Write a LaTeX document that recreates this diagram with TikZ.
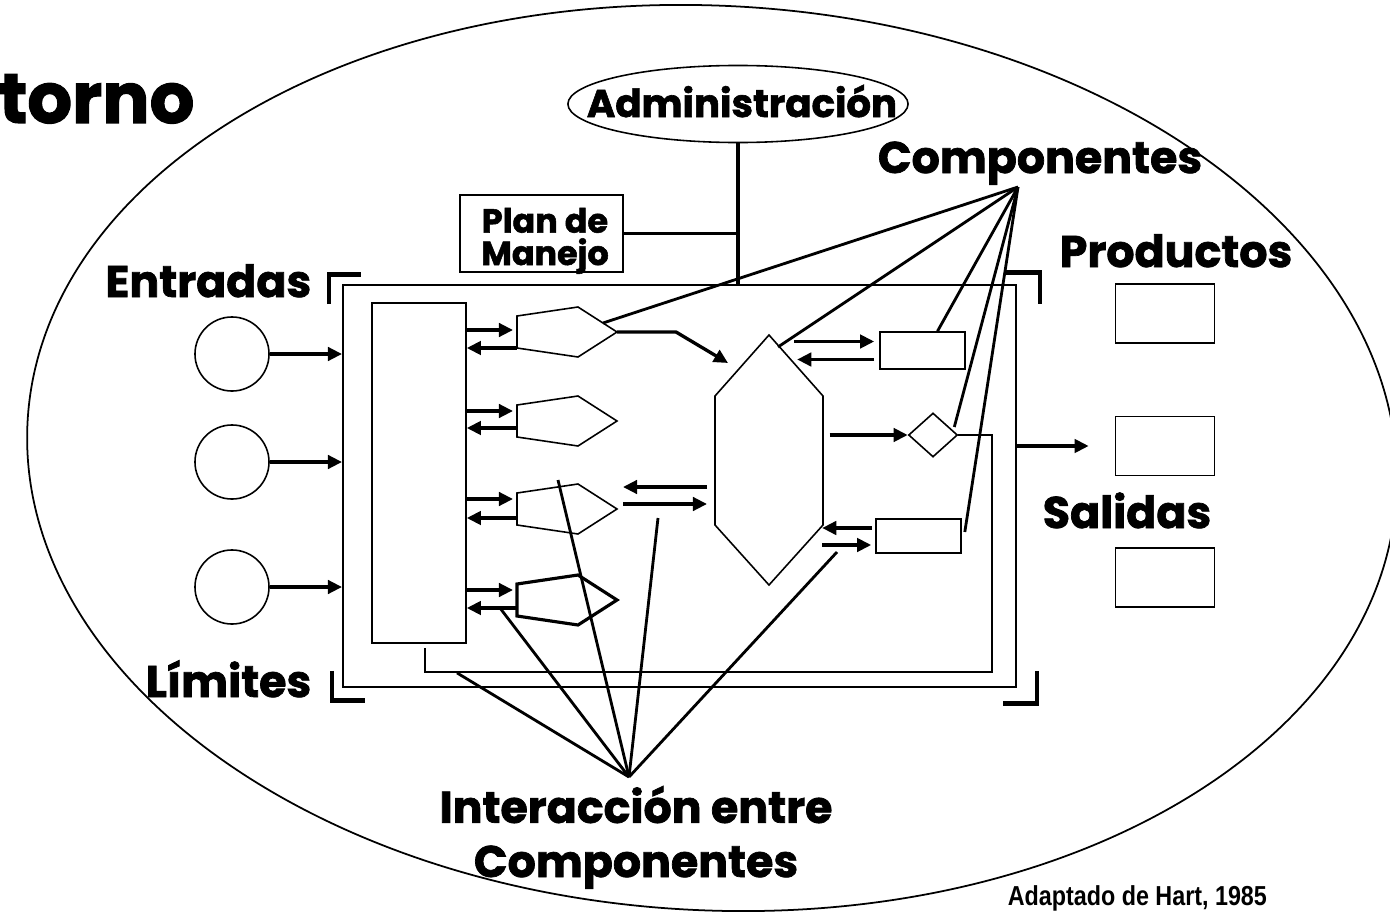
\documentclass[tikz,border=0pt]{standalone}
\usepackage{fontspec}
\setmainfont{Liberation Sans}
\newfontfamily\geofont{Poppins}[BoldFeatures={FakeBold=1.6}]
\newfontfamily\narrowfont[FakeStretch=0.85]{Liberation Sans}
\usetikzlibrary{arrows.meta, shapes.geometric, positioning, calc}

\begin{document}
\begin{tikzpicture}[x=0.01cm, y=-0.01cm, line width=0.45pt,
    big/.style={font=\geofont\bfseries\fontsize{12.6}{15.4}\selectfont, inner sep=0},
    mid/.style={font=\geofont\bfseries\fontsize{9.5}{9.2}\selectfont, inner sep=0},
    box/.style={draw, inner sep=0, line width=0.45pt},
    arr/.style={line width=0.95pt, -{Triangle[length=4pt, width=3.8pt]}},
    ray/.style={line width=0.8pt},
    bar/.style={line width=1pt},
    corner/.style={line width=1.4pt},
    pent/.pic={\draw (-50,-16) -- (11,-25) -- (50,0) -- (11,25) -- (-50,16) -- cycle;
               \coordinate (-w) at (-50,0); \coordinate (-e) at (50,0);},
    hexa/.pic={\draw (0,-125) -- (54,-64) -- (54,65) -- (0,125) -- (-54,65) -- (-54,-64) -- cycle;
               \coordinate (-c) at (0,0);}]
  \useasboundingbox (0,0) rectangle (1390,912);

  % entorno
  \node[draw, ellipse, rotate=-3, minimum width=13.7cm, minimum height=9.04cm,
        inner sep=0, line width=0.5pt] (env) at (712,458) {};
  \node[big, font=\geofont\bfseries\fontsize{20}{22}\selectfont, anchor=base west]
        (entorno) at (-2,123) {torno};

  % administracion
  \node[draw, ellipse, minimum width=3.4cm, minimum height=0.77cm, inner sep=0] (admin) at (738,104) {};
  \node[big, font=\geofont\bfseries\fontsize{11}{13}\selectfont, anchor=base] (admtext) at (742,117) {Administración};
  \node[box, minimum width=1.63cm, minimum height=0.77cm] (plan) at (541.5,233.5) {};
  \node[mid, anchor=base, align=center] (plantext) at (545,265) {Plan de\\Manejo};

  % sistema
  \node[box, minimum width=6.73cm, minimum height=4.02cm] (sys) at (679.5,486) {};
  \node[box, minimum width=0.94cm, minimum height=3.40cm] (proc) at (419,473) {};
  \draw[bar] (admin.south) -- (admin.south |- sys.north);
  \draw[bar] (plan.east) -- (plan.east -| admin.south);

  % limites
  \draw[corner] ($(sys.north west)+(-13,20)$) -- ++(0,-30) -- ++(32,0);
  \draw[corner] ($(sys.north east)+(-13,-12)$) -- ++(36,0) -- ++(0,32);
  \draw[corner] ($(sys.south west)+(-10,-17)$) -- ++(0,30) -- ++(33,0);
  \draw[corner] ($(sys.south east)+(20,-17)$) -- ++(0,33) -- ++(-34,0);

  % entradas
  \foreach \i/\y in {1/354, 2/462, 3/587} {
    \node[draw, circle, minimum size=0.74cm, inner sep=0] (src\i) at (232,\y) {};
    \draw[arr] (src\i) -- (src\i -| sys.west);
  }

  % componentes
  \pic (p1) at (567,332) {pent};
  \pic (p2) at (567,421) {pent};
  \pic (p3) at (567,509) {pent};
  \pic[line width=0.9pt] (p4) at (567,600) {pent};
  \pic (hx) at (769,460) {hexa};
  \node[box, minimum width=0.85cm, minimum height=0.37cm] (rA) at (922.5,350.5) {};
  \node[draw, diamond, minimum width=0.49cm, minimum height=0.44cm, inner sep=0] (dm) at (933,435) {};
  \node[box, minimum width=0.85cm, minimum height=0.34cm] (rB) at (918.5,536) {};

  \foreach \p/\a/\b in {p1/-2/16, p2/-10/7, p3/-10/9, p4/-10/8} {
    \coordinate (\p-r) at ($(\p-w)+(-4,\a)$);
    \coordinate (\p-l) at ($(\p-w)+(0,\b)$);
    \draw[arr] (proc.east |- \p-r) -- (\p-r);
    \draw[arr] (\p-l) -- (proc.east |- \p-l);
  }
  \draw[arr] (p1-e) -- ++(59,0) -- ($(hx-c)+(-41,-97)$);
  \draw[arr] ($(hx-c)+(-62,27)$) -- ($(p3-e)+(6,-22)$);
  \draw[arr] ($(p3-e)+(6,-5)$) -- ($(hx-c)+(-62,44)$);
  \draw[arr] ($(rA.west)+(-85,-9)$) -- ($(rA.west)+(-5,-9)$);
  \draw[arr] ($(rA.west)+(-5,9)$) -- ($(rA.west)+(-82,9)$);
  \draw[arr] ($(dm.west)+(-78,0)$) -- (dm.west);
  \draw[arr] ($(rB.west)+(-3,-8)$) -- ($(rB.west)+(-53,-8)$);
  \draw[arr] ($(rB.west)+(-53,9)$) -- ($(rB.west)+(-4,9)$);
  \draw (dm.east) -| (992,672) -| ($(proc.south)+(6,4)$);

  % salidas
  \foreach \i/\y in {1/313.5, 2/446, 3/577.5}
    \node[box, minimum width=0.99cm, minimum height=0.59cm] (out\i) at (1165,\y) {};
  \draw[arr, shorten >=0.26cm] (sys.east |- out2.west) -- (out2.west);

  % rotulos
  \node[big, anchor=base] (comp) at (1040,173) {Componentes};
  \node[big, anchor=base] (prod) at (1176,267) {Productos};
  \node[big, anchor=base east] (entr) at (312,297) {Entradas};
  \node[big, anchor=base east] (lim) at (312,697) {Límites};
  \node[big, anchor=base] (sal) at (1127,528) {Salidas};
  \node[big, anchor=base, align=center] (inter) at (636,877) {Interacción entre\\Componentes};
  \node[font=\narrowfont\bfseries\fontsize{7.8}{9}\selectfont, anchor=base west, inner sep=0]
        (fuente) at (1007,905) {Adaptado de Hart, 1985};

  % lineas a componentes
  \coordinate (cf) at (1018,187);
  \draw[ray] (cf) -- ($(p1-e)+(-14,-9)$);
  \draw[ray] (cf) -- ($(hx-c)+(9,-113)$);
  \draw[ray] (cf) -- ($(rA.north)+(15,0)$);
  \draw[ray] (cf) -- ($(dm.east)+(-4,-8)$);
  \draw[ray] (cf) -- ($(rB.east)+(3,-4)$);

  % lineas de interaccion
  \coordinate (ci) at (629,777);
  \draw[ray] (ci) -- ($(proc.south)+(38,29)$);
  \draw[ray] (ci) -- ($(p4-w)+(-17,8)$);
  \draw[ray] (ci) -- ($(p3-w)+(41,-29)$);
  \draw[ray] (ci) -- ($(p3-e)+(41,9)$);
  \draw[ray] (ci) -- ($(hx-c)+(68,92)$);
\end{tikzpicture}
\end{document}
